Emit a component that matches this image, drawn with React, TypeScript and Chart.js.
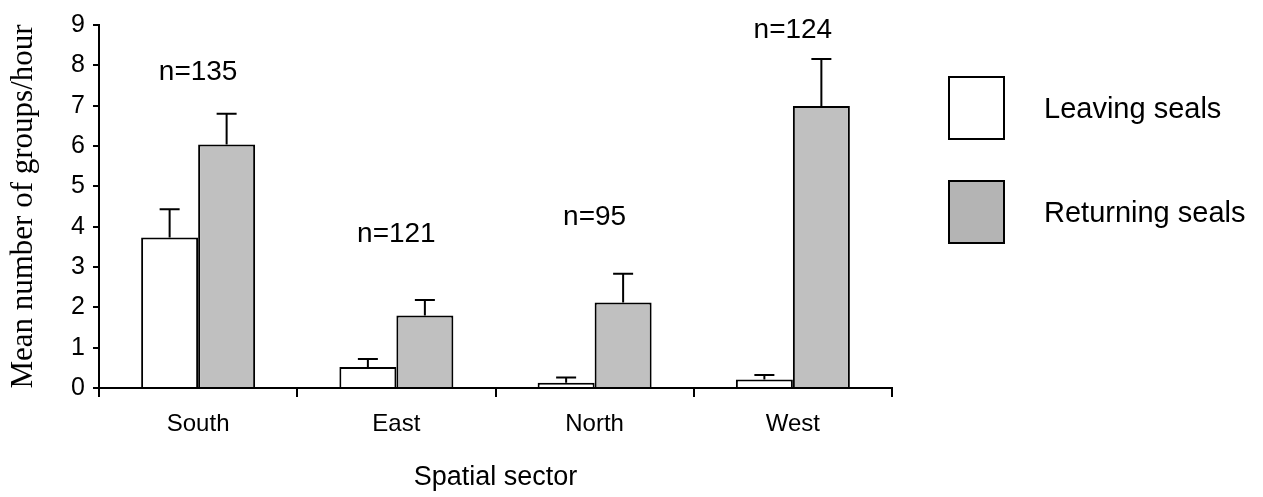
import React, { useEffect, useRef } from "react";
import { Chart, registerables } from "chart.js";

Chart.register(...registerables);

const categories = ["South", "East", "North", "West"];
const leavingMeans = [3.73, 0.52, 0.13, 0.21];
const leavingErrors = [0.7, 0.2, 0.13, 0.11];
const returningMeans = [6.04, 1.8, 2.12, 6.99];
const returningErrors = [0.76, 0.38, 0.71, 1.17];
const sampleLabels = ["n=135", "n=121", "n=95", "n=124"];
const sampleLabelLevels = [7.83, 3.8, 4.24, 8.88];
const yTicks = [0, 1, 2, 3, 4, 5, 6, 7, 8, 9];
const seriesNames = ["Leaving seals", "Returning seals"];

const SANS = '"Liberation Sans", Arial, sans-serif';
const SERIF = '"Liberation Serif", "Times New Roman", serif';

export default function App() {
  const canvasRef = useRef<HTMLCanvasElement | null>(null);

  useEffect(() => {
    document.body.style.margin = "0";
    const canvas = canvasRef.current;
    if (!canvas) return;

    const errors = [leavingErrors, returningErrors];

    const annotationsPlugin = {
      id: "annotations",
      afterDatasetsDraw(chart: any) {
        const ctx = chart.ctx;
        const y = chart.scales.y;
        const x = chart.scales.x;
        ctx.save();
        ctx.strokeStyle = "#000";
        ctx.lineWidth = 2;
        chart.data.datasets.forEach((ds: any, di: number) => {
          const meta = chart.getDatasetMeta(di);
          meta.data.forEach((bar: any, i: number) => {
            const v = ds.data[i];
            const e = errors[di][i];
            const y0 = y.getPixelForValue(v);
            const y1 = y.getPixelForValue(v + e);
            ctx.beginPath();
            ctx.moveTo(bar.x, y0);
            ctx.lineTo(bar.x, y1);
            ctx.moveTo(bar.x - 10, y1);
            ctx.lineTo(bar.x + 10, y1);
            ctx.stroke();
          });
        });
        ctx.fillStyle = "#000";
        ctx.font = `28px ${SANS}`;
        ctx.textAlign = "center";
        ctx.textBaseline = "middle";
        sampleLabels.forEach((t, i) => {
          ctx.fillText(t, x.getPixelForValue(i), y.getPixelForValue(sampleLabelLevels[i]));
        });
        ctx.restore();
      },
      afterDraw(chart: any) {
        const ctx = chart.ctx;
        ctx.save();
        const fills = ["#ffffff", "#b4b4b4"];
        const tops = [77, 181];
        ctx.lineWidth = 2;
        ctx.strokeStyle = "#000";
        ctx.font = `29px ${SANS}`;
        ctx.textAlign = "left";
        ctx.textBaseline = "middle";
        seriesNames.forEach((name, i) => {
          ctx.fillStyle = fills[i];
          ctx.fillRect(949, tops[i], 55, 62);
          ctx.strokeRect(949, tops[i], 55, 62);
          ctx.fillStyle = "#000";
          ctx.fillText(name, 1044, tops[i] + 33);
        });
        ctx.restore();
      },
    };

    const chart = new Chart(canvas, {
      type: "bar",
      data: {
        labels: categories,
        datasets: [
          {
            label: seriesNames[0],
            data: leavingMeans,
            backgroundColor: "#ffffff",
            borderColor: "#000000",
            borderWidth: 2,
            barPercentage: 1.0,
            categoryPercentage: 0.575,
          },
          {
            label: seriesNames[1],
            data: returningMeans,
            backgroundColor: "#c0c0c0",
            borderColor: "#000000",
            borderWidth: 2,
            barPercentage: 1.0,
            categoryPercentage: 0.575,
          },
        ],
      },
      options: {
        responsive: false,
        maintainAspectRatio: false,
        animation: false,
        layout: { padding: { left: 0, top: 25, right: 371, bottom: 0 } },
        plugins: {
          legend: { display: false },
          tooltip: { enabled: false },
        },
        scales: {
          x: {
            offset: true,
            grid: {
              offset: true,
              drawOnChartArea: false,
              drawTicks: true,
              tickLength: 9,
              color: "#000",
              lineWidth: 2,
            },
            border: { display: true, color: "#000", width: 2 },
            ticks: {
              color: "#000",
              font: { family: SANS, size: 24 },
              padding: 13,
              maxRotation: 0,
            },
            title: {
              display: true,
              text: "Spatial sector",
              color: "#000",
              font: { family: SANS, size: 27 },
              padding: { top: 0, bottom: 3 },
            },
            afterFit(scale: any) {
              scale.height = 109;
            },
          },
          y: {
            min: 0,
            max: 9,
            afterBuildTicks(scale: any) {
              scale.ticks = yTicks.map((v) => ({ value: v }));
            },
            grid: {
              drawOnChartArea: false,
              drawTicks: true,
              tickLength: 6,
              color: "#000",
              lineWidth: 2,
            },
            border: { display: true, color: "#000", width: 2 },
            ticks: {
              color: "#000",
              font: { family: SANS, size: 25 },
              padding: 8,
            },
            title: {
              display: true,
              text: "Mean number of groups/hour",
              color: "#000",
              font: { family: SERIF, size: 31 },
              padding: { top: 5, bottom: 0 },
            },
            afterFit(scale: any) {
              scale.width = 99;
            },
          },
        },
      },
      plugins: [annotationsPlugin],
    });

    return () => {
      chart.destroy();
    };
  }, []);

  return (
    <div style={{ width: 1263, height: 497, position: "relative" }}>
      <canvas ref={canvasRef} width={1263} height={497} />
    </div>
  );
}
